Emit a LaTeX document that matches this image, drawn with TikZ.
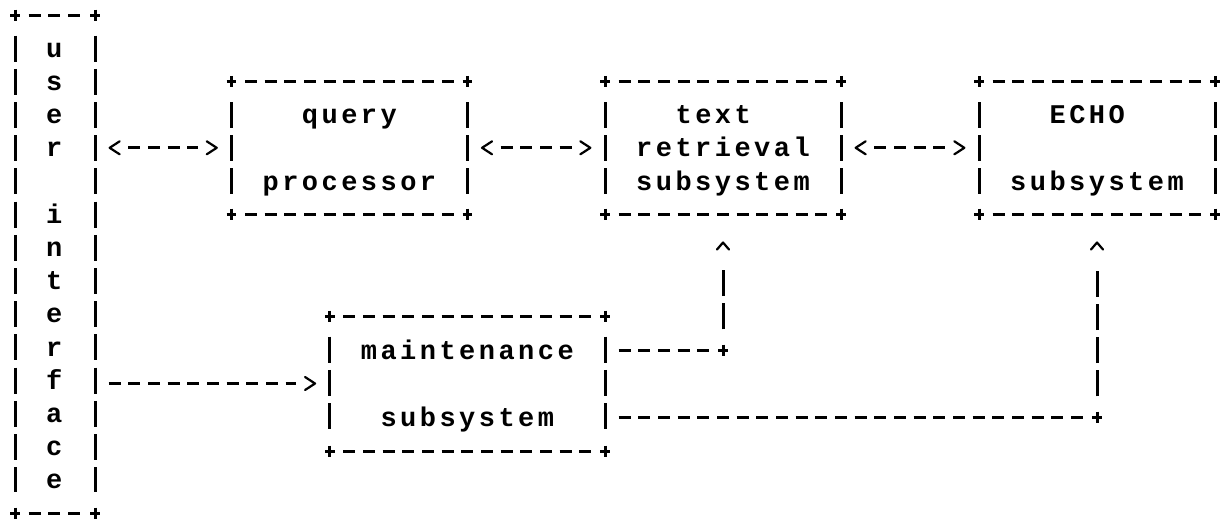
\documentclass[tikz,border=0pt]{standalone}
\usepackage{fontspec}
\newfontfamily\asciifont[LetterSpace=12.85]{Liberation Mono}
\usetikzlibrary{arrows.meta,calc}
\pgfdeclarearrow{
  name=Chev,
  setup code={
    \pgfarrowssettipend{0pt}
    \pgfarrowssetbackend{-5pt}
    \pgfarrowssetvisualbackend{-5pt}
    \pgfarrowssetlineend{-9.33pt}
    \pgfarrowshullpoint{0pt}{0pt}
    \pgfarrowsupperhullpoint{-5pt}{3.25pt}
  },
  drawing code={
    \pgfsetdash{}{0pt}
    \pgfsetlinewidth{1.1pt}
    \pgfsetroundcap
    \pgfsetroundjoin
    \pgfpathmoveto{\pgfqpoint{-5pt}{3.25pt}}
    \pgfpathlineto{\pgfqpoint{0pt}{0pt}}
    \pgfpathlineto{\pgfqpoint{-5pt}{-3.25pt}}
    \pgfusepathqstroke
  }
}
\pgfdeclarearrow{
  name=Caret,
  setup code={
    \pgfarrowssettipend{0pt}
    \pgfarrowssetbackend{-3.5pt}
    \pgfarrowssetvisualbackend{-3.5pt}
    \pgfarrowssetlineend{-12pt}
    \pgfarrowshullpoint{0pt}{0pt}
    \pgfarrowsupperhullpoint{-3.5pt}{3pt}
  },
  drawing code={
    \pgfsetdash{}{0pt}
    \pgfsetlinewidth{1.1pt}
    \pgfsetroundcap
    \pgfsetroundjoin
    \pgfpathmoveto{\pgfqpoint{-3.5pt}{3pt}}
    \pgfpathlineto{\pgfqpoint{0pt}{0pt}}
    \pgfpathlineto{\pgfqpoint{-3.5pt}{-3pt}}
    \pgfusepathqstroke
  }
}
\tikzset{
  hline/.style={line width=1.5pt, dash pattern=on 6pt off 3.835pt, shorten <=6.83pt, shorten >=6.83pt},
  harrow/.style={hline, shorten <=7.33pt, shorten >=7.33pt},
  vline/.style={line width=1.5pt, dash pattern=on 13pt off 3.6pt, shorten <=10.3pt, shorten >=10.3pt},
  uparrow/.style={vline, shorten >=14.15pt, -{Caret}},
  plusmark/.style={line width=1.5pt},
  boxnode/.style={inner sep=0pt, outer sep=0pt, draw=none},
  word/.style={font=\asciifont\bfseries\fontsize{13.5}{16}\selectfont, inner sep=0pt, anchor=base},
  asciiplus/.pic={\draw[plusmark] (-4.8,0) -- (4.8,0) (0,-5.5) -- (0,5.5);}
}
\newcommand\drawasciibox[1]{%
  \draw[hline] (#1.north west) -- (#1.north east);
  \draw[hline] (#1.south west) -- (#1.south east);
  \draw[vline] (#1.north west) -- (#1.south west);
  \draw[vline] (#1.north east) -- (#1.south east);
  \pic at (#1.north west) {asciiplus};
  \pic at (#1.north east) {asciiplus};
  \pic at (#1.south west) {asciiplus};
  \pic at (#1.south east) {asciiplus};
}
\begin{document}
\begin{tikzpicture}[x=0.5pt,y=-0.5pt]
\fill[white] (0,0) rectangle (1220,521);
\useasboundingbox (0,0) rectangle (1220,521);

% boxes
\node[boxnode, minimum width=40pt, minimum height=249pt] (ui) at (55,264) {};
\node[boxnode, minimum width=118pt, minimum height=66.4pt] (qp) at (349.4,147.8) {};
\node[boxnode, minimum width=118pt, minimum height=66.4pt] (tr) at (723,147.8) {};
\node[boxnode, minimum width=118pt, minimum height=66.4pt] (echo) at (1097,147.8) {};
\node[boxnode, minimum width=137.65pt, minimum height=67.5pt] (mt) at (467.35,383.5) {};

\drawasciibox{ui}
\drawasciibox{qp}
\drawasciibox{tr}
\drawasciibox{echo}
\drawasciibox{mt}

% texts
\foreach \ch/\r in {u/1,s/2,e/3,r/4,i/6,n/7,t/8,e/9,r/10,f/11,a/12,c/13,e/14}
  \node[word] (ui-\r) at ($(ui.center)+(-0.7,33.2*\r-240)$) {\ch};
\node[word] (qp-a) at ($(qp.center)+(0,-24.2)$) {query};
\node[word] (qp-b) at ($(qp.center)+(0,42.2)$) {processor};
\node[word] (tr-a) at ($(tr.center)+(-9.8,-24.2)$) {text};
\node[word] (tr-b) at ($(tr.center)+(0,9)$) {retrieval};
\node[word] (tr-c) at ($(tr.center)+(0,42.2)$) {subsystem};
\node[word] (ec-a) at ($(echo.center)+(-9.8,-24.2)$) {ECHO};
\node[word] (ec-b) at ($(echo.center)+(0,42.2)$) {subsystem};
\node[word] (mt-a) at ($(mt.center)+(0,-24.5)$) {maintenance};
\node[word] (mt-b) at ($(mt.center)+(0,42.5)$) {subsystem};

% connectors
\draw[harrow, {Chev}-{Chev}] (ui.east |- qp.west) -- (qp.west);
\draw[harrow, {Chev}-{Chev}] (qp.east) -- (tr.west);
\draw[harrow, {Chev}-{Chev}] (tr.east) -- (echo.west);
\draw[hline, shorten >=7.33pt, -{Chev}] (ui.east |- mt.west) -- (mt.west);

\coordinate (m10) at ($(mt.east)+(0,-33.5)$);
\coordinate (c5) at (tr.south |- m10);
\draw[hline] (m10) -- (c5);
\draw[uparrow] (c5) -- (tr.south);
\pic at (c5) {asciiplus};

\coordinate (m12) at ($(mt.east)+(0,33.5)$);
\coordinate (c6) at (echo.south |- m12);
\draw[hline] (m12) -- (c6);
\draw[uparrow] (c6) -- (echo.south);
\pic at (c6) {asciiplus};
\end{tikzpicture}
\end{document}
